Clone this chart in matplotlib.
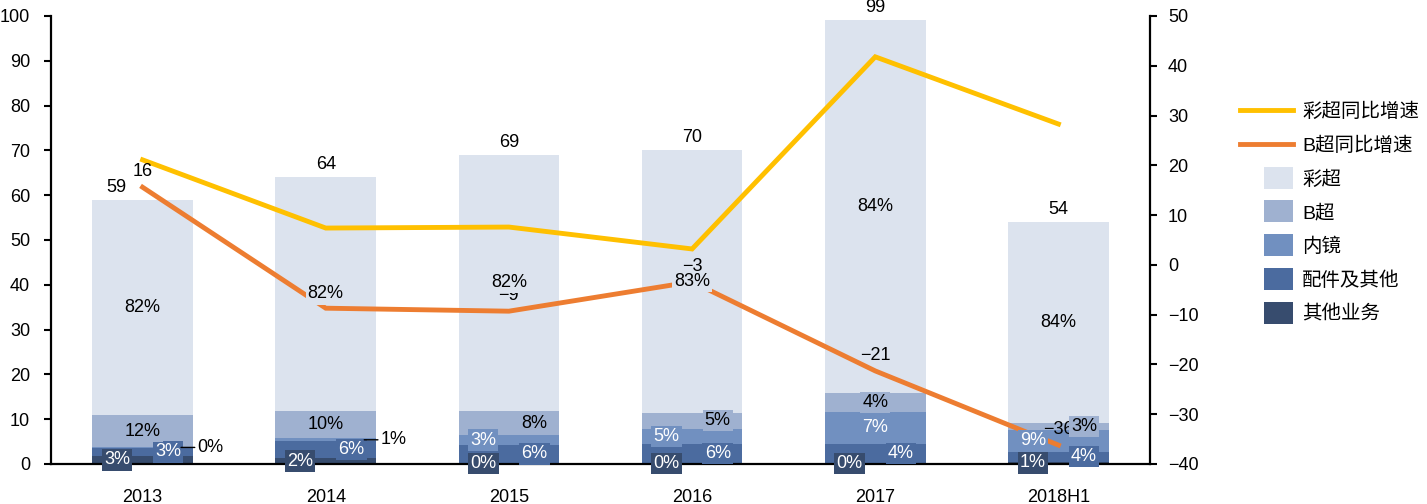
import matplotlib
matplotlib.use('Agg')
import matplotlib.pyplot as plt
from matplotlib.patches import Rectangle, Patch
from matplotlib.legend_handler import HandlerPatch
from matplotlib.lines import Line2D
import numpy as np

plt.rcParams['font.family'] = ['Liberation Sans', 'Noto Sans CJK SC', 'DejaVu Sans']
plt.rcParams['axes.unicode_minus'] = True

# ---------------- data ----------------
categories = ['2013', '2014', '2015', '2016', '2017', '2018H1']
totals = [59, 64, 69, 70, 99, 54]
other_biz = [1.8, 1.3, 0.2, 0.2, 0.3, 0.5]        # 其他业务
accessories = [1.8, 3.8, 4.1, 4.2, 4.2, 2.2]      # 配件及其他
endoscope = [0.2, 0.6, 2.1, 3.5, 7.2, 4.9]        # 内镜
b_ultra = [7.1, 6.2, 5.5, 3.5, 4.2, 1.6]          # B超
color_ultra = [48.1, 52.1, 57.1, 58.6, 83.1, 44.8]  # 彩超

other_pct = ['3%', '2%', '0%', '0%', '0%', '1%']
acc_pct = ['3%', '6%', '6%', '6%', '4%', '4%']
endo_pct = ['0%', '1%', '3%', '5%', '7%', '9%']
b_pct = ['12%', '10%', '8%', '5%', '4%', '3%']
color_pct = ['82%', '82%', '82%', '83%', '84%', '84%']

color_growth = [21.1, 7.4, 7.6, 3.2, 41.8, 28.3]     # 彩超同比增速
b_growth = [15.6, -8.7, -9.3, -3.4, -21.3, -36.2]    # B超同比增速
b_growth_labels = ['16', '\u22129', '\u22129', '\u22123', '\u221221', '\u221236']

# ---------------- style ----------------
c_color = '#dce3ee'
c_b = '#9fb1d0'
c_endo = '#7190c0'
c_acc = '#4b6b9f'
c_other = '#374c6e'
c_yellow = '#ffc000'
c_orange = '#ed7d31'

segments = [
    ('其他业务', other_biz, other_pct, c_other, 'white', ['L'] * 6),
    ('配件及其他', accessories, acc_pct, c_acc, 'white', ['R'] * 6),
    ('内镜', endoscope, endo_pct, c_endo, 'white', ['O', 'O', 'L', 'L', 'C', 'L']),
    ('B超', b_ultra, b_pct, c_b, 'black', ['C', 'C', 'R', 'R', 'C', 'R']),
    ('彩超', color_ultra, color_pct, c_color, 'black', ['C'] * 6),
]
offsets = {'L': -0.14, 'R': 0.14, 'C': 0.0}
total_label_dx = [-19, 0, 0, 0, 0, 0]  # points

W, H = 1427, 504
fig = plt.figure(figsize=(W / 100, H / 100), dpi=100)
ax = fig.add_axes([51 / W, 1 - 464 / H, (1150 - 51) / W, (464 - 16) / H])
ax2 = ax.twinx()

x = np.arange(len(categories))
bw = 0.55
bottom = np.zeros(len(categories))
for name, vals, pcts, col, tcol, pos in segments:
    vals = np.array(vals, dtype=float)
    ax.bar(x, vals, bw, bottom=bottom, color=col, label=name, zorder=2)
    for i in range(len(x)):
        yc = bottom[i] + vals[i] / 2
        p = pos[i]
        if p == 'O':
            ax2.annotate(pcts[i], xy=(x[i] + 0.21, yc), xycoords=ax.transData,
                         xytext=(x[i] + 0.30, yc), textcoords=ax.transData,
                         ha='left', va='center', fontsize=13, color='black',
                         arrowprops=dict(arrowstyle='-', color='black', lw=1,
                                         shrinkA=0, shrinkB=0), zorder=6)
        else:
            ax2.text(x[i] + offsets[p], yc, pcts[i], transform=ax.transData,
                     ha='center', va='center', fontsize=13, color=tcol, zorder=6,
                     bbox=dict(boxstyle='square,pad=0.12', fc=col, ec='none'))
    bottom += vals

for i in range(len(x)):
    ax.annotate(str(totals[i]), xy=(x[i], totals[i]), xytext=(total_label_dx[i], 3),
                textcoords='offset points', ha='center', va='bottom',
                fontsize=13, annotation_clip=False)

ax.set_xlim(-0.5, len(x) - 0.5)
ax.set_ylim(0, 100)
ax.set_yticks(np.arange(0, 101, 10))
ax.set_xticks(x)
ax.set_xticklabels(categories)
ax.tick_params(axis='x', length=0, pad=18, labelsize=13)
ax.tick_params(axis='y', length=5, width=1.5, pad=10, labelsize=13, direction='out')

ax2.plot(x, color_growth, color=c_yellow, lw=3.5, zorder=3, solid_joinstyle='miter')
ax2.plot(x, b_growth, color=c_orange, lw=3.5, zorder=3, solid_joinstyle='miter')
for i in range(len(x)):
    ax2.annotate(b_growth_labels[i], xy=(x[i], b_growth[i]), xytext=(0, 5),
                 textcoords='offset points', ha='center', va='bottom',
                 fontsize=13, zorder=4)
ax2.set_ylim(-40, 50)
ax2.set_yticks(np.arange(-40, 51, 10))
ax2.tick_params(axis='y', length=5, width=1.5, pad=8, labelsize=13, direction='out')

for a in (ax, ax2):
    a.spines['top'].set_visible(False)
    for s in ('left', 'right', 'bottom'):
        a.spines[s].set_linewidth(1.6)
        a.spines[s].set_color('black')
ax.spines['right'].set_visible(False)
ax2.spines['left'].set_visible(False)
ax2.spines['bottom'].set_visible(False)


class SmallPatchHandler(HandlerPatch):
    def create_artists(self, legend, orig_handle, xdescent, ydescent, width, height,
                       fontsize, trans):
        pw, ph = 20.9, 15.8
        r = Rectangle((width - xdescent - pw, height / 2 - ydescent - ph / 2), pw, ph,
                      facecolor=orig_handle.get_facecolor(), edgecolor='none',
                      transform=trans)
        return [r]


handles = [Line2D([], [], color=c_yellow, lw=3.5),
           Line2D([], [], color=c_orange, lw=3.5),
           Patch(color=c_color), Patch(color=c_b), Patch(color=c_endo),
           Patch(color=c_acc), Patch(color=c_other)]
labels = ['彩超同比增速', 'B超同比增速', '彩超', 'B超', '内镜', '配件及其他', '其他业务']
anchor = [1231.0, H - 90.0]
leg = fig.legend(handles, labels, loc='upper left',
                 bbox_to_anchor=(anchor[0] / W, anchor[1] / H), frameon=False,
                 fontsize=14, handlelength=2.75, handletextpad=0.45,
                 labelspacing=0.8, borderpad=0.4,
                 handler_map={Patch: SmallPatchHandler()})

# fine-position the legend: first label should start at x=1302, centred at y=112 (from top)
fig.canvas.draw()
r = fig.canvas.get_renderer()
tb = leg.get_texts()[0].get_window_extent(r)
dx = 1302 - tb.x0
dy = (H - 112) - (tb.y0 + tb.y1) / 2
leg.set_bbox_to_anchor(((anchor[0] + dx) / W, (anchor[1] + dy) / H), transform=fig.transFigure)

fig.savefig('out.png', dpi=100)
